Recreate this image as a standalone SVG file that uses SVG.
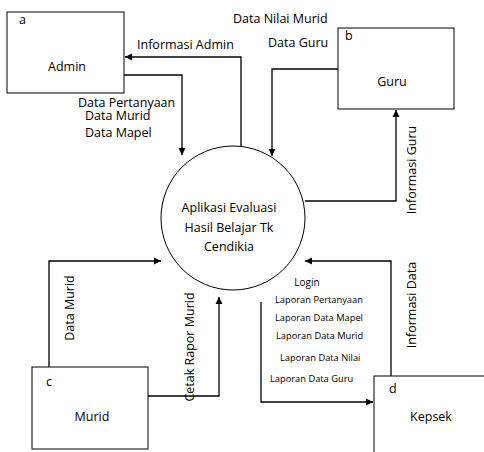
<svg xmlns="http://www.w3.org/2000/svg" width="484" height="452" viewBox="0 0 484 452">
<defs>
<marker id="ah" markerWidth="8" markerHeight="8" refX="7" refY="4" orient="auto" markerUnits="userSpaceOnUse">
<path d="M0,0.5 L7,4 L0,7.5 Z" fill="#000"/>
</marker>
<style>
.box{fill:#fff;stroke:#000;stroke-width:1}
.ln{fill:none;stroke:#000;stroke-width:1.3;marker-end:url(#ah)}
text{font-family:"Open Sans","Liberation Sans",sans-serif;fill:#000}
.t{font-size:12.5px}
.s{font-size:9.3px}
</style>
</defs>
<rect width="484" height="452" fill="#fff"/>
<g id="connectors">
<path class="ln" d="M241,155 V57 H125"/>
<path class="ln" d="M124,75 H182 V155"/>
<path class="ln" d="M338,69 H272 V156"/>
<path class="ln" d="M305,201 H396 V110"/>
<path class="ln" d="M49,367 V261 H161"/>
<path class="ln" d="M148,396 H219 V297"/>
<path class="ln" d="M391,376 V261 H305"/>
<path class="ln" d="M261,302 V402 H373"/>
</g>
<g id="labels">
<text class="t" x="137" y="49">Informasi Admin</text>
<text class="t" x="78" y="107">Data Pertanyaan</text>
<text class="t" x="85" y="120">Data Murid</text>
<text class="t" x="85" y="137">Data Mapel</text>
<text class="t" x="233" y="23">Data Nilai Murid</text>
<text class="t" x="268" y="47">Data Guru</text>
<text class="t" transform="translate(416,170) rotate(-90)" text-anchor="middle">Informasi Guru</text>
<text class="t" transform="translate(74,308) rotate(-90)" text-anchor="middle">Data Murid</text>
<text class="t" transform="translate(194,347) rotate(-90)" text-anchor="middle">Cetak Rapor Murid</text>
<text class="t" transform="translate(416,305) rotate(-90)" text-anchor="middle">Informasi Data</text>
<text x="307" y="286" text-anchor="middle" style="font-size:10px">Login</text>
<text class="s" x="275" y="303">Laporan Pertanyaan</text>
<text class="s" x="275" y="321">Laporan Data Mapel</text>
<text class="s" x="276" y="339">Laporan Data Murid</text>
<text class="s" x="280" y="361">Laporan Data Nilai</text>
<text class="s" x="270" y="382">Laporan Data Guru</text>
</g>
<g id="process">
<circle cx="233" cy="218" r="72" fill="#fff" stroke="#000" stroke-width="1"/>
<text class="t" x="229" y="212" text-anchor="middle">Aplikasi Evaluasi</text>
<text class="t" x="229" y="232" text-anchor="middle">Hasil Belajar Tk</text>
<text class="t" x="229" y="251" text-anchor="middle">Cendikia</text>
</g>
<g id="admin">
<rect class="box" x="7" y="12" width="117" height="81"/>
<text class="t" x="19" y="24">a</text>
<text class="t" x="67" y="71" text-anchor="middle">Admin</text>
</g>
<g id="guru">
<rect class="box" x="338" y="28" width="116" height="81"/>
<text class="t" x="345" y="40">b</text>
<text class="t" x="392" y="86" text-anchor="middle">Guru</text>
</g>
<g id="murid">
<rect class="box" x="32" y="367" width="116" height="82"/>
<text class="t" x="46" y="386">c</text>
<text class="t" x="92" y="421" text-anchor="middle">Murid</text>
</g>
<g id="kepsek">
<rect class="box" x="374" y="376" width="120" height="90"/>
<text class="t" x="389" y="393">d</text>
<text class="t" x="431" y="421" text-anchor="middle">Kepsek</text>
</g>
</svg>
